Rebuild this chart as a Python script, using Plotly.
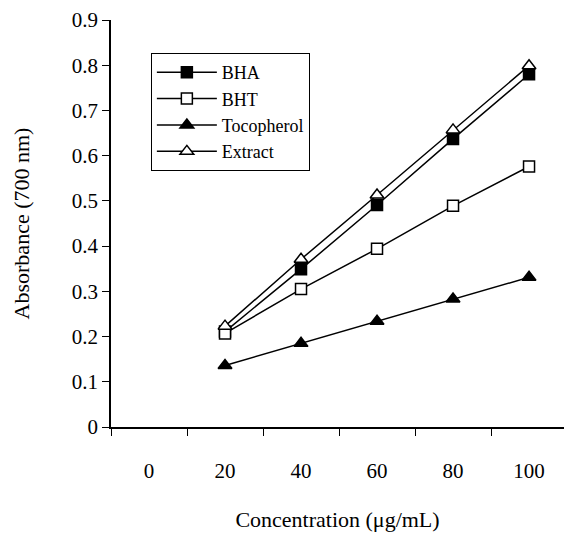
import plotly.graph_objects as go

categories = ["0", "20", "40", "60", "80", "100"]
conc = ["20", "40", "60", "80", "100"]
bha = [0.211, 0.349, 0.491, 0.637, 0.780]
bht = [0.207, 0.305, 0.394, 0.489, 0.576]
tocopherol = [0.136, 0.185, 0.234, 0.283, 0.331]
extract = [0.223, 0.371, 0.513, 0.657, 0.799]
y_ticks = [0, 0.1, 0.2, 0.3, 0.4, 0.5, 0.6, 0.7, 0.8, 0.9]
y_ticktext = ["0", "0.1", "0.2", "0.3", "0.4", "0.5", "0.6", "0.7", "0.8", "0.9"]

FONT = "Liberation Serif"

fig = go.Figure()

series = [
    ("BHA", bha, "square", "black"),
    ("BHT", bht, "square", "white"),
    ("Tocopherol", tocopherol, "triangle-up", "black"),
    ("Extract", extract, "triangle-up", "white"),
]
for name, vals, sym, fill in series:
    fig.add_trace(go.Scatter(
        x=conc, y=vals, name=name, mode="lines+markers",
        line=dict(color="black", width=1.5),
        marker=dict(symbol=sym, size=11 if sym == "square" else 12, color=fill,
                    line=dict(color="black", width=1.5)),
    ))

fig.update_layout(
    width=564, height=537,
    margin=dict(l=111, r=0, t=20, b=110),
    paper_bgcolor="white", plot_bgcolor="white",
    font=dict(family=FONT, size=21, color="black"),
    showlegend=True,
    legend=dict(
        x=0.088, y=0.919, xanchor="left", yanchor="top",
        bordercolor="black", borderwidth=1, bgcolor="white",
        font=dict(family=FONT, size=18, color="black"),
        tracegroupgap=0, itemwidth=60,
    ),
    xaxis=dict(
        type="category", categoryorder="array", categoryarray=categories,
        range=[-0.5, 5.46], tickson="boundaries",
        ticks="outside", ticklen=7, tickwidth=1, tickcolor="black",
        showline=True, linecolor="black", linewidth=1.5,
        showgrid=False, zeroline=False,
        ticklabelstandoff=24,
        title=dict(text="Concentration (μg/mL)", standoff=30,
                   font=dict(family=FONT, size=22)),
    ),
    yaxis=dict(
        range=[0, 0.9], tickvals=y_ticks, ticktext=y_ticktext,
        ticks="outside", ticklen=7, tickwidth=1, tickcolor="black",
        showline=True, linecolor="black", linewidth=1.5,
        showgrid=False, zeroline=False,
        title=dict(text="Absorbance (700 nm)", standoff=36,
                   font=dict(family=FONT, size=22)),
    ),
)

fig.write_html("out.html")
